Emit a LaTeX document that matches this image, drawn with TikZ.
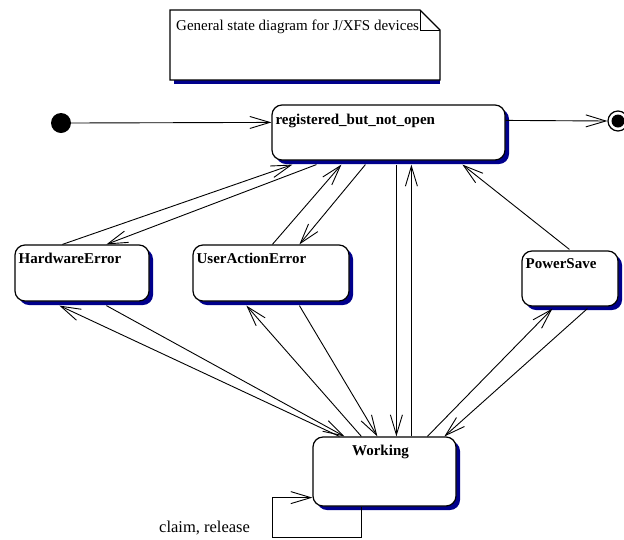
\documentclass[tikz,border=0pt]{standalone}
\usepackage{fontspec}
\setmainfont{Liberation Serif}
\usetikzlibrary{arrows.meta,shadows,calc}
\definecolor{shadowblue}{RGB}{0,0,140}
\tikzset{
  state/.style={draw=black, line width=1.2pt, fill=white, rounded corners=10pt, inner sep=0pt,
    drop shadow={shadow xshift=4pt, shadow yshift=-4pt, fill=shadowblue, opacity=1}},
  slabel/.style={font=\fontsize{15}{18}\selectfont\bfseries, inner sep=0pt},
  plain/.style={font=\fontsize{15}{18}\selectfont, inner sep=0pt},
  arr/.style={line width=0.9pt, -{Straight Barb[length=20pt,width=12pt,line width=0.9pt]}},
  ln/.style={line width=0.9pt},
}
\begin{document}
\begin{tikzpicture}[x=1pt,y=-1pt]
\useasboundingbox (0,0) rectangle (624,539);

% note
\fill[shadowblue] (174,80) rectangle (440,84);
\draw[line width=1.2pt, fill=white] (170,10) -- (420,10) -- (440,30) -- (440,80) -- (170,80) -- cycle;
\draw[line width=1pt] (420,10) -- (420,30) -- (440,30);
\node[plain, anchor=north west] (note) at (176,20) {General state diagram for J/XFS devices};

% states
\node[state, minimum width=233pt, minimum height=55pt,
  label={[slabel, anchor=north west, xshift=4pt, yshift=-9pt]north west:registered\_but\_not\_open}]
  (reg) at (388.5,132.5) {};
\node[state, minimum width=134pt, minimum height=56pt,
  label={[slabel, anchor=north west, xshift=4pt, yshift=-8pt]north west:HardwareError}]
  (hw) at (82,273) {};
\node[state, minimum width=156pt, minimum height=56pt,
  label={[slabel, anchor=north west, xshift=4pt, yshift=-8pt]north west:UserActionError}]
  (uae) at (271,273) {};
\node[state, minimum width=96pt, minimum height=55pt,
  label={[slabel, anchor=north west, xshift=4pt, yshift=-8pt]north west:PowerSave}]
  (ps) at (570,278.5) {};
\node[state, minimum width=143pt, minimum height=69pt,
  label={[slabel, anchor=north, xshift=-4pt, yshift=-8pt]north:Working}]
  (work) at (384.5,471.5) {};

% initial and final
\node[circle, fill=black, minimum size=20pt, inner sep=0pt] (init) at (61,123) {};
\node[circle, draw=black, line width=1.2pt, fill=white, minimum size=20pt, inner sep=0pt] (fin) at (618,121) {};
\node[circle, fill=black, minimum size=13pt, inner sep=0pt] (finin) at (fin) {};

\draw[arr] (init.east) -- ($(reg.north west)+(0,18)$);
\draw[arr] ($(reg.north east)+(0,16)$) -- (fin.west);

% registered <-> HardwareError
\draw[arr] ($(hw.north west)+(48,0)$) -- ($(reg.south west)+(21,4)$);
\draw[arr] ($(reg.south west)+(45,4)$) -- ($(hw.north west)+(92,0)$);
% registered <-> UserActionError
\draw[arr] ($(uae.north west)+(80,0)$) -- ($(reg.south west)+(70,4)$);
\draw[arr] ($(reg.south west)+(94,4)$) -- ($(uae.north west)+(107,0)$);
% registered <-> Working
\draw[arr] ($(reg.south west)+(125,4)$) -- ($(work.north west)+(84,0)$);
\draw[arr] ($(work.north west)+(99,0)$) -- ($(reg.south west)+(140,4)$);
% PowerSave -> registered
\draw[arr] ($(ps.north west)+(48,-1)$) -- ($(reg.south west)+(191,4)$);
% HardwareError <-> Working
\draw[arr] ($(hw.south west)+(92,4)$) -- ($(work.north west)+(32,0)$);
\draw[arr] ($(work.north west)+(27,0)$) -- ($(hw.south west)+(45,4)$);
% UserActionError <-> Working
\draw[arr] ($(uae.south west)+(107,4)$) -- ($(work.north west)+(65,0)$);
\draw[arr] ($(work.north west)+(49,0)$) -- ($(uae.south west)+(54,4)$);
% PowerSave <-> Working
\draw[arr] ($(work.north west)+(115,0)$) -- ($(ps.south west)+(31,2)$);
\draw[arr] ($(ps.south west)+(66,2)$) -- ($(work.north west)+(132,0)$);

% self loop
\draw[arr] ($(work.south west)+(49,0)$) -- ++(0,31) -- ++(-89,0) -- ++(0,-40) -- ($(work.south west)+(0,-9)$);
\node[font=\fontsize{16.5}{19}\selectfont, inner sep=0pt, anchor=base west] (loopl) at (159,532) {claim, release};
\end{tikzpicture}
\end{document}
